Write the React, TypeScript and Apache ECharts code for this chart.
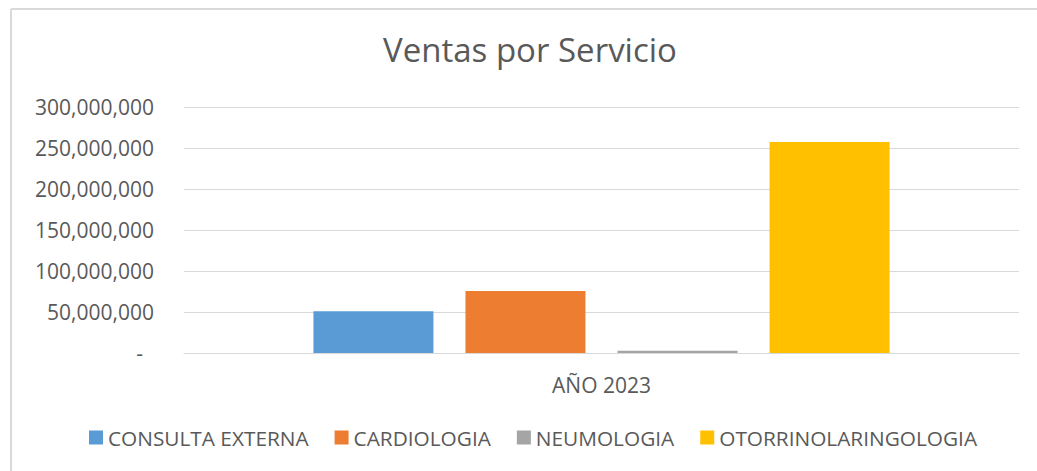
import React, { useEffect, useRef } from "react";
import * as echarts from "echarts";

const categories = ["AÑO 2023"];
const seriesNames = ["CONSULTA EXTERNA", "CARDIOLOGIA", "NEUMOLOGIA", "OTORRINOLARINGOLOGIA"];
const seriesValues = [51000000, 75600000, 2800000, 257300000];
const seriesColors = ["#5b9bd5", "#ed7d31", "#a5a5a5", "#ffc000"];
const yTicks = [0, 50000000, 100000000, 150000000, 200000000, 250000000, 300000000];

const FONT = "Open Sans";
const TEXT = "#595959";

export default function App() {
  const ref = useRef<HTMLDivElement>(null);
  useEffect(() => {
    if (!ref.current) return;
    const chart = echarts.init(ref.current, null, { renderer: "svg" });
    chart.setOption({
      animation: false,
      backgroundColor: "#ffffff",
      title: {
        text: "Ventas por Servicio",
        left: 525,
        textAlign: "center",
        top: 28,
        textStyle: { fontFamily: FONT, fontSize: 33, fontWeight: "normal", color: TEXT },
      },
      graphic: [
        { type: "line", shape: { x1: 11, y1: 9, x2: 1037, y2: 9 }, style: { stroke: "#d9d9d9", lineWidth: 2 } },
        { type: "line", shape: { x1: 11, y1: 9, x2: 11, y2: 471 }, style: { stroke: "#d9d9d9", lineWidth: 2 } },
      ],
      legend: {
        bottom: 18,
        left: 84,
        itemWidth: 14,
        itemHeight: 14,
        itemGap: 26,
        icon: "rect",
        textStyle: { fontFamily: FONT, fontSize: 20.8, color: TEXT, padding: [0, 0, 0, 0] },
        data: seriesNames,
      },
      grid: { left: 184, right: 18, top: 107, bottom: 118, containLabel: false },
      xAxis: {
        type: "category",
        data: categories,
        axisLine: { lineStyle: { color: "#d9d9d9", width: 1 } },
        axisTick: { show: false },
        axisLabel: { fontFamily: FONT, fontSize: 21, color: TEXT, margin: 21 },
      },
      yAxis: {
        type: "value",
        min: yTicks[0],
        max: yTicks[yTicks.length - 1],
        interval: yTicks[1] - yTicks[0],
        axisLine: { show: false },
        axisTick: { show: false },
        splitLine: { lineStyle: { color: "#d9d9d9", width: 1 } },
        axisLabel: {
          fontFamily: FONT,
          fontSize: 21,
          color: TEXT,
          margin: 30,
          formatter: (v: number) => (v === 0 ? "{z|-}" : v.toLocaleString("en-US")),
          rich: { z: { fontFamily: FONT, fontSize: 21, color: TEXT, padding: [0, 11, 0, 0] } },
        },
      },
      series: seriesNames.map((name, i) => ({
        name,
        type: "bar",
        data: [seriesValues[i]],
        barWidth: 120,
        barGap: "26.7%",
        itemStyle: { color: seriesColors[i] },
      })),
    });
    return () => chart.dispose();
  }, []);
  return <div ref={ref} style={{ position: "fixed", left: 0, top: 0, width: 1037, height: 471 }} />;
}
